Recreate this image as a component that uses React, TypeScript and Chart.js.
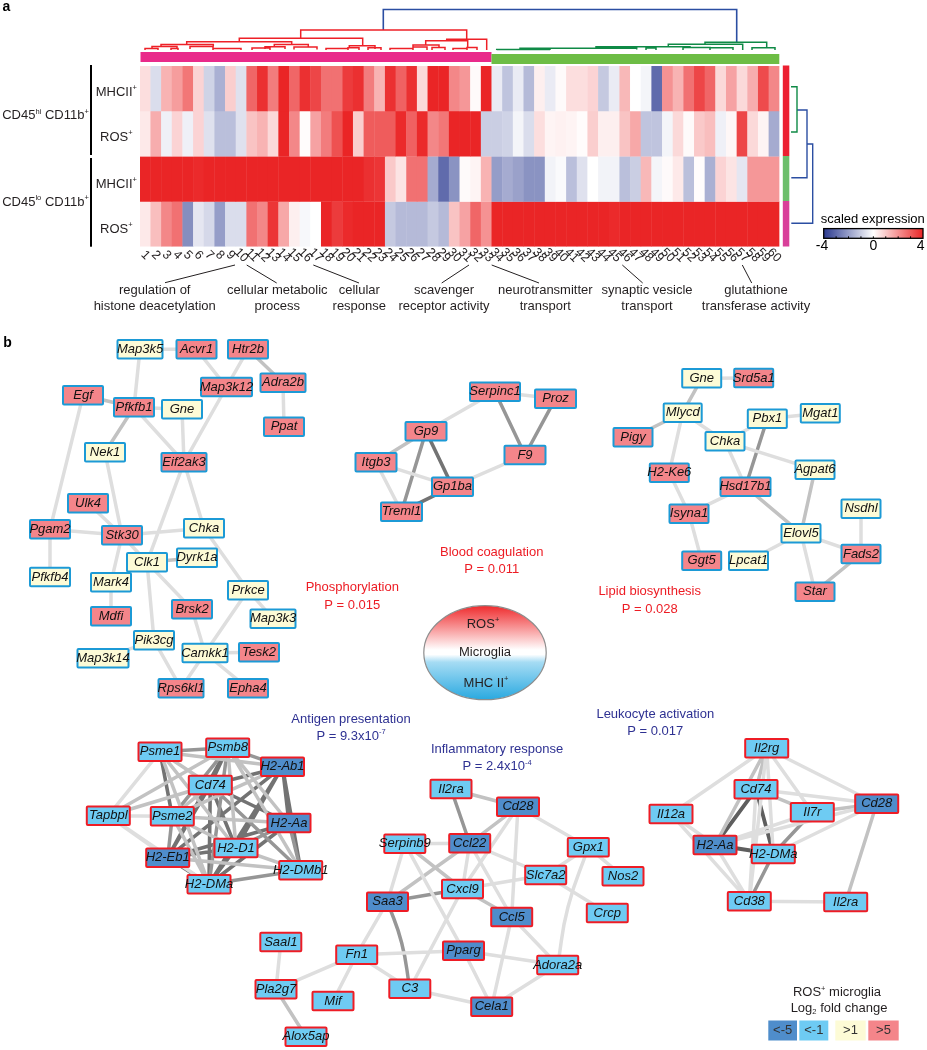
import React, { useEffect, useRef } from "react";
import { Chart, registerables } from "chart.js";

Chart.register(...registerables);

const FONT = '"Liberation Sans", Arial, sans-serif';
const INK = "#231f20";

// ---------- panel a: heat map ----------
const columnLabels = Array.from({ length: 60 }, (_, i) => String(i + 1));
const rowNames = ["CD45hi MHCII+", "CD45hi ROS+", "CD45lo MHCII+", "CD45lo ROS+"];
const hiMhc = [0.6, -0.7, 1.4, 1.8, 2.5, 0.8, -0.9, -1.6, 0.9, -0.6, 2.8, 3.8, 2.4, 4, 2.8, 3.8, 3.4, 2.6, 2.6, 3.6, 3.8, 2.4, 1.4, 3.8, 2.9, 3.8, 0.7, 4, 4, 2.2, 1.9, 0.1, 4, -0.4, -1.2, -0.4, -1.4, 0.3, -0.4, 0.1, 0.6, 0.6, 0.8, -1.1, -0.4, 1.3, 0, -0.2, -3, 2, 1.4, 2.6, 3.4, 2.8, 0.7, 1.7, 0.7, 1.5, 3.3, 2.2];
const hiRos = [0.4, 1.5, -0.3, 0.8, -0.3, 0.8, -0.6, -1.3, -1.3, -0.6, 1.1, 1.4, 0.7, 4, 2.2, 0.05, 1.7, 2.4, 3.2, 4, 0.9, 3, 3, 3, 3.9, 2.9, 3.9, 2.2, 2.5, 4, 4, 4, -1, -1, -0.9, -0.2, -0.7, 0.6, 0.2, 0.25, 0.2, 0.05, 0.9, 0.3, 0.3, 1.1, 1.6, -1.2, -1.2, -0.2, 0.7, 0.1, 1, 1.2, -0.3, 0.15, 3.4, 0.7, 0.2, -1.7];
const loMhc = [4, 4, 4, 4, 4, 3.9, 4, 4, 4, 4, 4, 4, 4, 4, 4, 4, 4, 4, 4, 4, 4, 3.8, 3.7, 1, 0.5, 2.6, 2.6, -1.7, -3, -2.2, 0.1, 0.2, 1.4, -2, -1.7, -1.9, -2.2, -2.2, -0.25, -0.1, -1.3, -0.6, 0, -0.25, -0.25, -1.3, -1, 1.3, -0.2, 0.1, 0.4, -1.3, 0.05, -1.6, 0.8, 0.5, -0.5, 1.9, 1.9, 1.9];
const loRos = [0.4, 1.2, 2.2, 2.6, -2.3, -0.5, -0.8, -2, -0.7, -0.7, 2.6, 2.2, 3.7, 1.6, 0.3, -0.15, 0, 4, 3.6, 3.9, 4, 4, 4, -1.1, -1.4, -1.4, -1.4, -1.1, -1.4, 1.1, 1.7, 2.8, 2, 4, 4, 4, 4, 4, 4, 4, 4, 4, 4, 4, 3.9, 4, 4, 4, 4, 4, 4, 4, 4, 4, 4, 4, 4, 4, 4, 4];
const heatRows = [hiMhc, hiRos, loMhc, loRos];

const topClusterBars: [number, number, number, number, string][] = [
  [140.5, 491.5, 52, 62, "#e92a8a"],
  [491.5, 779.3, 54, 64, "#6dbd45"],
];
const sideClusterBars: [number, number, number, number, string][] = [
  [782.8, 789.3, 65.5, 156, "#ec2031"],
  [782.8, 789.3, 156, 201, "#6cbf6c"],
  [782.8, 789.3, 201, 246.5, "#d9409a"],
];
const rowBrackets: [number, number, number, number, string][] = [
  [90, 92, 65, 155, "#000"],
  [90, 92, 158, 246.7, "#000"],
];

// dendrogram merges: left x, right x, top, left foot, right foot
const redMerges = [
  [300.7, 466.7, 30, 38.3, 40], [239.3, 362.7, 38.3, 41.7, 45.7], [186.7, 291.7, 41.7, 44.5, 44.5],
  [161, 213.3, 44.5, 46.5, 46.5], [152, 177, 46.5, 48.5, 49], [145, 158, 48.5, 50, 50], [171, 178, 48.5, 50, 50],
  [190, 213, 46.5, 49, 49], [213, 241, 48.5, 50, 50], [274.3, 308.3, 44.5, 47, 47], [252, 270, 48, 50, 50],
  [265, 285, 46.8, 49, 49], [294, 317, 47, 49.5, 49.5], [349.3, 375, 45.7, 48, 49], [326, 348, 48.5, 50, 50],
  [348, 359, 47.8, 50, 50], [368, 381, 47.8, 50, 50], [446.7, 486.7, 39.3, 40.7, 50], [425.7, 467.7, 40.7, 45, 47.3],
  [413, 439, 45, 47, 47.5], [390, 413, 48.5, 50, 50], [413, 427, 47, 50, 50], [432, 445, 47.5, 50, 50],
  [453, 467, 48.5, 50, 50], [467, 477, 47.5, 50, 50],
];
const greenMerges = [
  [705, 766.7, 42.3, 44.3, 47.7], [752, 775, 47.7, 50, 50], [668.3, 742.7, 44.3, 46.7, 50], [596, 690, 46.7, 47.7, 47.7],
  [520, 636.7, 48.2, 49.5, 49.5], [496.7, 550, 49.6, 50, 50], [646, 656, 48, 50, 50], [683, 710, 47.5, 50, 50],
  [710, 733, 47.7, 50, 50],
];
const blueMerges = [[383.3, 736.7, 9.5, 30, 42.3]];
const sideGreen = [[[791, 86.7], [797, 86.7], [797, 132], [791, 132]]];
const sideBlue = [
  [[797, 110], [807, 110], [807, 177.7], [791.3, 177.7]],
  [[807, 144], [812.7, 144], [812.7, 223.3], [791.3, 223.3]],
];
const leaderLines = [
  [235, 265, 165, 282.7], [246.7, 265, 276.7, 283], [313.3, 265, 359, 283], [469, 265, 441.7, 283],
  [491.7, 265, 539, 283], [622.3, 265, 642.7, 283], [742.3, 265, 751.7, 283],
];

// ---------- panel b: networks ----------
type Cluster = { genes: string[]; fold: number[]; layout: number[][]; edges: [string, string, number][]; border: string };

const phosGenes = ["Map3k5", "Acvr1", "Htr2b", "Map3k12", "Adra2b", "Egf", "Pfkfb1", "Gne", "Ppat", "Nek1", "Eif2ak3", "Ulk4", "Pgam2", "Stk30", "Chka", "Clk1", "Dyrk1a", "Pfkfb4", "Mark4", "Prkce", "Brsk2", "Map3k3", "Mdfi", "Pik3cg", "Camkk1", "Tesk2", "Map3k14", "Rps6kl1", "Epha4"];
const phosFold = [1, 5, 5, 5, 5, 5, 5, 1, 5, 1, 5, 5, 5, 5, 1, 1, 1, 1, 1, 1, 5, 1, 5, 1, 1, 5, 1, 5, 5];
const phosLayout = [[140, 349.3, 47], [196.5, 349.3, 42], [248, 349.3, 42], [226.5, 387, 53], [283, 382.7, 47], [83, 395.3, 42], [134, 407.3, 42], [182, 409.3, 42], [284, 426.7, 42], [105, 452.3, 42], [184, 462.3, 47], [88, 503.3, 42], [50, 529.3, 42], [122, 535.3, 42], [204, 528.3, 42], [147, 562.3, 42], [197, 557.7, 42], [50, 577, 42], [111, 582.3, 42], [248, 590.3, 42], [192, 609.3, 42], [273, 618.7, 47], [111, 616.3, 42], [154, 640.3, 42], [205, 653, 47], [259, 652.3, 42], [103, 658.3, 53], [181, 688.3, 47], [248, 688.3, 42]];
const phosEdges: [string, string, number][] = [["Map3k5", "Acvr1", 1], ["Map3k5", "Pfkfb1", 1], ["Acvr1", "Map3k12", 1], ["Htr2b", "Map3k12", 1], ["Htr2b", "Adra2b", 2], ["Adra2b", "Ppat", 1], ["Egf", "Pfkfb1", 2], ["Egf", "Pgam2", 1], ["Pfkfb1", "Gne", 1], ["Pfkfb1", "Nek1", 2], ["Pfkfb1", "Eif2ak3", 1], ["Gne", "Eif2ak3", 1], ["Map3k12", "Eif2ak3", 1], ["Nek1", "Stk30", 1], ["Eif2ak3", "Clk1", 1], ["Eif2ak3", "Chka", 1], ["Ulk4", "Stk30", 1], ["Pgam2", "Stk30", 1], ["Pgam2", "Pfkfb4", 1], ["Stk30", "Chka", 1], ["Stk30", "Clk1", 1], ["Stk30", "Mark4", 1], ["Clk1", "Dyrk1a", 2], ["Clk1", "Brsk2", 1], ["Clk1", "Pik3cg", 1], ["Mark4", "Mdfi", 1], ["Chka", "Prkce", 1], ["Prkce", "Map3k3", 1], ["Prkce", "Camkk1", 1], ["Brsk2", "Camkk1", 1], ["Camkk1", "Tesk2", 1], ["Camkk1", "Rps6kl1", 1], ["Camkk1", "Epha4", 1], ["Pik3cg", "Map3k14", 1], ["Pik3cg", "Rps6kl1", 1]];

const coagGenes = ["Serpinc1", "Proz", "Gp9", "F9", "Gp1ba", "Itgb3", "Treml1"];
const coagFold = [5, 5, 5, 5, 5, 5, 5];
const coagLayout = [[495, 391.7, 52], [555.5, 398.7, 43], [426, 431.3, 43], [525, 455, 43], [452.5, 486.7, 43], [376, 462.3, 43], [401.5, 511.7, 43]];
const coagEdges: [string, string, number][] = [["Serpinc1", "Proz", 1], ["Serpinc1", "Gp9", 1], ["Serpinc1", "F9", 3], ["Proz", "F9", 3], ["F9", "Gp1ba", 1], ["Gp9", "Gp1ba", 4], ["Gp9", "Treml1", 3], ["Gp9", "Itgb3", 2], ["Itgb3", "Gp1ba", 1], ["Itgb3", "Treml1", 1], ["Treml1", "Gp1ba", 4]];

const lipidGenes = ["Gne", "Srd5a1", "Mlycd", "Pbx1", "Mgat1", "Pigy", "Chka", "Agpat6", "H2-Ke6", "Hsd17b1", "Nsdhl", "Isyna1", "Elovl5", "Fads2", "Ggt5", "Lpcat1", "Star"];
const lipidFold = [1, 5, 1, 1, 1, 5, 1, 1, 5, 5, 1, 5, 1, 5, 5, 1, 5];
const lipidLayout = [[701.7, 378.3, 41], [753.7, 378, 41], [682.7, 412.7, 40], [767.3, 418.7, 41], [820.3, 413.3, 41], [633, 437.3, 41], [725, 441.3, 41], [815, 469.7, 41], [669.3, 472.7, 41], [745.5, 486.7, 52], [861, 508.7, 41], [689, 513.7, 41], [801, 533.3, 41], [861, 554, 41], [701.7, 560.7, 41], [748.5, 560.7, 41], [815, 591.7, 41]];
const lipidEdges: [string, string, number][] = [["Gne", "Srd5a1", 1], ["Gne", "Mlycd", 2], ["Mlycd", "Pigy", 2], ["Mlycd", "H2-Ke6", 1], ["Mlycd", "Chka", 1], ["Chka", "Pbx1", 1], ["Pbx1", "Mgat1", 1], ["Pbx1", "Hsd17b1", 3], ["Chka", "Hsd17b1", 1], ["Chka", "Agpat6", 1], ["H2-Ke6", "Isyna1", 1], ["Isyna1", "Hsd17b1", 1], ["Isyna1", "Ggt5", 1], ["Hsd17b1", "Elovl5", 2], ["Agpat6", "Elovl5", 2], ["Elovl5", "Lpcat1", 1], ["Elovl5", "Fads2", 1], ["Elovl5", "Star", 1], ["Fads2", "Star", 2], ["Nsdhl", "Fads2", 1]];

const antigenGenes = ["Psme1", "Psmb8", "H2-Ab1", "Cd74", "Tapbpl", "Psme2", "H2-Aa", "H2-D1", "H2-Eb1", "H2-DMb1", "H2-DMa"];
const antigenFold = [-1, -1, -5, -1, -1, -1, -5, -1, -5, -1, -1];
const antigenLayout = [[160, 751.7, 45], [227.7, 747.7, 45], [282.5, 766.7, 45], [210.3, 785, 45], [108.3, 815.7, 45], [172.3, 816.3, 45], [289, 823, 45], [236, 848, 45], [167.7, 857.7, 45], [300.7, 870.3, 45], [209, 884.3, 45]];
const antigenEdges: [string, string, number][] = [["Tapbpl", "Psme1", 1], ["Tapbpl", "Psmb8", 2], ["Tapbpl", "Cd74", 2], ["Tapbpl", "Psme2", 1], ["Tapbpl", "H2-Eb1", 1], ["Tapbpl", "H2-DMa", 1], ["Psme1", "Psmb8", 3], ["Psme1", "Cd74", 2], ["Psme1", "H2-DMa", 2], ["Psme1", "H2-D1", 2], ["Psme1", "H2-Ab1", 2], ["Psmb8", "H2-D1", 2], ["Psmb8", "H2-Aa", 2], ["Psmb8", "H2-DMb1", 2], ["Cd74", "Psme2", 2], ["H2-Ab1", "Psme2", 2], ["H2-Aa", "Psme2", 2], ["H2-D1", "H2-DMb1", 2], ["H2-D1", "Psme2", 2], ["H2-Eb1", "H2-DMb1", 2], ["H2-DMa", "Psme2", 2], ["Psme1", "Psme2", 4], ["Psmb8", "H2-Ab1", 3], ["Psmb8", "Cd74", 4], ["Psmb8", "H2-Eb1", 4], ["Psmb8", "H2-DMa", 3], ["Psmb8", "Psme2", 3], ["Cd74", "H2-D1", 4], ["Cd74", "H2-DMb1", 3], ["H2-Ab1", "H2-D1", 4], ["H2-Aa", "H2-DMb1", 3], ["H2-Aa", "H2-Eb1", 4], ["H2-Aa", "H2-D1", 3], ["H2-D1", "H2-Eb1", 4], ["H2-Eb1", "Psme2", 3], ["H2-DMa", "H2-DMb1", 3], ["Cd74", "H2-Ab1", 4], ["Cd74", "H2-Aa", 4], ["Cd74", "H2-Eb1", 4], ["Cd74", "H2-DMa", 4], ["H2-Ab1", "H2-Aa", 4], ["H2-Ab1", "H2-DMb1", 4], ["H2-Ab1", "H2-Eb1", 4], ["H2-Ab1", "H2-DMa", 4], ["H2-Aa", "H2-DMa", 4], ["H2-D1", "H2-DMa", 4], ["H2-Eb1", "H2-DMa", 4]];

const inflamGenes = ["Il2ra", "Cd28", "Ccl22", "Serpinb9", "Gpx1", "Slc7a2", "Nos2", "Cxcl9", "Saa3", "Ccl5", "Crcp", "Pparg", "Fn1", "Adora2a", "C3", "Pla2g7", "Saal1", "Mif", "Alox5ap", "Cela1"];
const inflamFold = [-1, -5, -5, -1, -1, -1, -1, -1, -5, -5, -1, -5, -1, -1, -1, -1, -1, -1, -1, -5];
const inflamLayout = [[451, 789, 43], [518, 806.7, 44], [469.7, 843.3, 43], [404.8, 843.7, 43], [588.3, 847.3, 43], [545.7, 875, 43], [623, 876.3, 43], [462.5, 889, 43], [387.5, 901.7, 43], [511.7, 917, 43], [607.3, 913, 43], [463.5, 950.7, 43], [356.7, 954.7, 43], [557.7, 965, 43], [409.8, 988.7, 43], [276, 989.3, 43], [280.8, 942, 43], [333, 1001, 43], [306, 1036.7, 43], [491.7, 1006.7, 43]];
const inflamEdges: [string, string, number][] = [["Il2ra", "Cd28", 2], ["Il2ra", "Ccl22", 3], ["Serpinb9", "Ccl22", 1], ["Serpinb9", "Cxcl9", 2], ["Serpinb9", "Saa3", 1], ["Serpinb9", "Pparg", 1], ["Cd28", "Ccl22", 2], ["Cd28", "Cxcl9", 1], ["Cd28", "Ccl5", 1], ["Cd28", "Gpx1", 1], ["Ccl22", "Saa3", 2], ["Ccl22", "Cxcl9", 1], ["Ccl22", "Slc7a2", 1], ["Ccl22", "Ccl5", 1], ["Cxcl9", "Saa3", 3], ["Cxcl9", "Slc7a2", 1], ["Cxcl9", "Ccl5", 2], ["Cxcl9", "C3", 1], ["Gpx1", "Slc7a2", 1], ["Gpx1", "Nos2", 1], ["Slc7a2", "Crcp", 1], ["Saa3", "Fn1", 1], ["Fn1", "Pparg", 1], ["Fn1", "C3", 1], ["Fn1", "Pla2g7", 1], ["Fn1", "Mif", 1], ["Saal1", "Pla2g7", 1], ["Pla2g7", "Alox5ap", 2], ["Pparg", "Adora2a", 1], ["Pparg", "Cela1", 1], ["C3", "Cela1", 1], ["Ccl5", "Cela1", 1], ["Ccl5", "Adora2a", 1], ["Adora2a", "Cela1", 1]];
const inflamCurves: [number, number, number, number, number, number, number][] = [
  [387.5, 901.7, 401.7, 943, 409.8, 988.7, 3],
  [588.3, 847.3, 568, 907, 557.7, 965, 1],
];

const leukoGenes = ["Il2rg", "Cd74", "Cd28", "Il7r", "Il12a", "H2-Aa", "H2-DMa", "Cd38", "Il2ra"];
const leukoFold = [-1, -1, -5, -1, -1, -5, -1, -1, -1];
const leukoLayout = [[766.7, 748.3, 45], [756, 789.3, 45], [876.7, 803.7, 45], [812.3, 812.3, 45], [671, 814, 45], [715, 845, 45], [773.3, 854, 45], [749.3, 901.3, 45], [845.7, 902, 45]];
const leukoEdges: [string, string, number][] = [["Il2rg", "Il12a", 1], ["Il2rg", "Cd74", 2], ["Il2rg", "Il7r", 1], ["Il2rg", "Cd28", 1], ["Il2rg", "H2-Aa", 2], ["Il2rg", "H2-DMa", 1], ["Il2rg", "Cd38", 1], ["Cd74", "Cd28", 1], ["Cd74", "Il7r", 2], ["Cd74", "Cd38", 1], ["Il7r", "Cd28", 2], ["Il7r", "H2-Aa", 1], ["Il7r", "H2-DMa", 3], ["Il12a", "H2-Aa", 1], ["Il12a", "Cd38", 1], ["H2-Aa", "Cd38", 1], ["H2-DMa", "Cd38", 3], ["Cd28", "H2-DMa", 1], ["Cd28", "H2-Aa", 1], ["Cd28", "Il2ra", 2], ["Cd38", "Il2ra", 1], ["Cd74", "H2-Aa", 5], ["Cd74", "H2-DMa", 5], ["H2-Aa", "H2-DMa", 5]];

const UP_BORDER = "#1c9ad6";
const DOWN_BORDER = "#ee1c25";
const clusters: Cluster[] = [
  { genes: phosGenes, fold: phosFold, layout: phosLayout, edges: phosEdges, border: UP_BORDER },
  { genes: coagGenes, fold: coagFold, layout: coagLayout, edges: coagEdges, border: UP_BORDER },
  { genes: lipidGenes, fold: lipidFold, layout: lipidLayout, edges: lipidEdges, border: UP_BORDER },
  { genes: antigenGenes, fold: antigenFold, layout: antigenLayout, edges: antigenEdges, border: DOWN_BORDER },
  { genes: inflamGenes, fold: inflamFold, layout: inflamLayout, edges: inflamEdges, border: DOWN_BORDER },
  { genes: leukoGenes, fold: leukoFold, layout: leukoLayout, edges: leukoEdges, border: DOWN_BORDER },
];

const foldColours: Record<string, string> = { "-5": "#4f8dcb", "-1": "#6ecbf3", "1": "#fdfbd6", "5": "#f4858a" };
const edgeStyles: Record<number, [string, number]> = {
  1: ["#dedede", 3.5],
  2: ["#c2c2c2", 3.5],
  3: ["#969696", 3.5],
  4: ["#737373", 3.6],
  5: ["#5e5e5e", 3.8],
};

const legendKeys: [string, number, number, number, number][] = [
  ["<-5", -5, 768.3, 797, 1030.5],
  ["<-1", -1, 799.3, 828.3, 1030.5],
  [">1", 1, 835.3, 865.7, 1030.5],
  [">5", 5, 868.3, 898.7, 1030.5],
];

// text, x, y, size, colour, align; ^..^ raises and ~..~ lowers a run
const RED = "#ed1c24";
const NAVY = "#2e3192";
const pageTexts: [string, number, number, number, string, CanvasTextAlign, boolean?][] = [
  ["a", 6.5, 7, 14, "#000", "center", true],
  ["b", 7.5, 342.7, 14, "#000", "center", true],
  ["MHCII^+^", 116.3, 92, 13, INK, "center"],
  ["ROS^+^", 116.3, 137.3, 13, INK, "center"],
  ["MHCII^+^", 116.3, 184, 13, INK, "center"],
  ["ROS^+^", 116.3, 229.3, 13, INK, "center"],
  ["CD45^hi^ CD11b^+^", 45.5, 115.7, 13, INK, "center"],
  ["CD45^lo^ CD11b^+^", 45.5, 202, 13, INK, "center"],
  ["regulation of", 154.7, 290.7, 13, INK, "center"],
  ["histone deacetylation", 154.7, 306, 13, INK, "center"],
  ["cellular metabolic", 277.3, 290.7, 13, INK, "center"],
  ["process", 277.3, 306, 13, INK, "center"],
  ["cellular", 359.3, 290.7, 13, INK, "center"],
  ["response", 359.3, 306, 13, INK, "center"],
  ["scavenger", 444, 290.7, 13, INK, "center"],
  ["receptor activity", 444, 306, 13, INK, "center"],
  ["neurotransmitter", 545.3, 290.7, 13, INK, "center"],
  ["transport", 545.3, 306, 13, INK, "center"],
  ["synaptic vesicle", 647, 290.7, 13, INK, "center"],
  ["transport", 647, 306, 13, INK, "center"],
  ["glutathione", 756, 290.7, 13, INK, "center"],
  ["transferase activity", 756, 306, 13, INK, "center"],
  ["scaled expression", 872.7, 219, 13, "#000", "center"],
  ["-4", 822, 246, 14, "#000", "center"],
  ["0", 873.3, 246, 14, "#000", "center"],
  ["4", 920.7, 246, 14, "#000", "center"],
  ["Phosphorylation", 352.3, 587.3, 13, RED, "center"],
  ["P = 0.015", 352.3, 605, 13, RED, "center"],
  ["Blood coagulation", 491.7, 552, 13, RED, "center"],
  ["P = 0.011", 491.7, 569.3, 13, RED, "center"],
  ["Lipid biosynthesis", 649.7, 591.7, 13, RED, "center"],
  ["P = 0.028", 649.7, 609, 13, RED, "center"],
  ["Antigen presentation", 351, 719, 13, NAVY, "center"],
  ["P = 9.3x10^-7^", 351, 736, 13, NAVY, "center"],
  ["Inflammatory response", 497, 749, 13, NAVY, "center"],
  ["P = 2.4x10^-4^", 497, 766.5, 13, NAVY, "center"],
  ["Leukocyte activation", 655.3, 714, 13, NAVY, "center"],
  ["P = 0.017", 655.3, 731, 13, NAVY, "center"],
  ["ROS^+^", 483, 624, 13, INK, "center"],
  ["Microglia", 485, 652.7, 13, INK, "center"],
  ["MHC II^+^", 486, 683, 13, INK, "center"],
  ["ROS^+^ microglia", 837, 992.7, 13, INK, "center"],
  ["Log~2~ fold change", 839, 1008.5, 13, INK, "center"],
];

// ---------- helpers ----------
const RED_END = [234, 37, 38];
const BLUE_END = [43, 58, 144];
function heatColour(v: number) {
  const t = Math.min(1, Math.abs(v) / 4);
  const end = v >= 0 ? RED_END : BLUE_END;
  const c = end.map((e) => Math.round(255 + (e - 255) * t));
  return `rgb(${c[0]},${c[1]},${c[2]})`;
}

function parseRuns(text: string) {
  const runs: { t: string; mode: number }[] = [];
  let mode = 0;
  let buf = "";
  for (const ch of text) {
    if (ch === "^" || ch === "~") {
      if (buf) runs.push({ t: buf, mode });
      buf = "";
      mode = mode ? 0 : ch === "^" ? 1 : -1;
    } else buf += ch;
  }
  if (buf) runs.push({ t: buf, mode });
  return runs;
}

function drawRich(ctx: CanvasRenderingContext2D, text: string, x: number, y: number, size: number, colour: string, align: CanvasTextAlign, bold?: boolean, italic?: boolean) {
  const style = `${italic ? "italic " : ""}${bold ? "bold " : ""}`;
  const runs = parseRuns(text);
  const small = size * 0.58;
  let total = 0;
  for (const r of runs) {
    ctx.font = `${style}${r.mode ? small : size}px ${FONT}`;
    total += ctx.measureText(r.t).width;
  }
  let cx = align === "center" ? x - total / 2 : align === "right" ? x - total : x;
  ctx.fillStyle = colour;
  ctx.textAlign = "left";
  ctx.textBaseline = "middle";
  for (const r of runs) {
    ctx.font = `${style}${r.mode ? small : size}px ${FONT}`;
    ctx.fillText(r.t, cx, y - r.mode * size * 0.3);
    cx += ctx.measureText(r.t).width;
  }
}

function pathData(paths: number[][][]) {
  const pts: { x: number; y: number }[] = [];
  for (const p of paths) {
    for (const [x, y] of p) pts.push({ x, y });
    pts.push({ x: NaN, y: NaN });
  }
  return pts;
}
const merges2paths = (m: number[][]) => m.map(([a, b, top, fa, fb]) => [[a, fa], [a, top], [b, top], [b, fb]]);
const lineDataset = (paths: number[][][], colour: string, width: number, extra: object = {}) => ({
  type: "line" as const,
  data: pathData(paths),
  borderColor: colour,
  borderWidth: width,
  pointRadius: 0,
  spanGaps: false,
  tension: 0,
  ...extra,
});

function buildPageDatasets() {
  const sets: any[] = [];
  for (const level of [1, 2, 3, 4, 5]) {
    const paths: number[][][] = [];
    for (const c of clusters) {
      for (const [a, b, l] of c.edges) {
        if (l !== level) continue;
        const pa = c.layout[c.genes.indexOf(a)];
        const pb = c.layout[c.genes.indexOf(b)];
        paths.push([[pa[0], pa[1]], [pb[0], pb[1]]]);
      }
    }
    sets.push(lineDataset(paths, edgeStyles[level][0], edgeStyles[level][1]));
  }
  for (const [x1, y1, x2, y2, x3, y3, l] of inflamCurves) {
    sets.push(lineDataset([[[x1, y1], [x2, y2], [x3, y3]]], edgeStyles[l][0], edgeStyles[l][1], { tension: 0.5 }));
  }
  sets.push(lineDataset(merges2paths(redMerges), "#ee2027", 1.5));
  sets.push(lineDataset(merges2paths(greenMerges), "#0f8a46", 1.5));
  sets.push(lineDataset(merges2paths(blueMerges), "#2b4ea2", 1.6));
  sets.push(lineDataset(sideGreen, "#0f8a46", 1.4));
  sets.push(lineDataset(sideBlue, "#2b4ea2", 1.4));
  sets.push(lineDataset(leaderLines.map(([a, b, c, d]) => [[a, b], [c, d]]), "#231f20", 1));
  clusters.forEach((c) => {
    sets.push({
      type: "scatter" as const,
      label: "nodes",
      data: c.genes.map((g, i) => ({ x: c.layout[i][0], y: c.layout[i][1], gene: g, fold: c.fold[i], w: c.layout[i][2], border: c.border })),
      pointRadius: 0,
      showLine: false,
    });
  });
  return sets;
}

const pagePlugin = {
  id: "pageMarks",
  beforeDatasetsDraw(chart: any) {
    const ctx: CanvasRenderingContext2D = chart.ctx;
    const sx = chart.scales.x;
    const sy = chart.scales.y;
    const box = ([x1, x2, y1, y2, col]: [number, number, number, number, string]) => {
      ctx.fillStyle = col;
      ctx.fillRect(sx.getPixelForValue(x1), sy.getPixelForValue(y1), sx.getPixelForValue(x2) - sx.getPixelForValue(x1), sy.getPixelForValue(y2) - sy.getPixelForValue(y1));
    };
    [...topClusterBars, ...sideClusterBars, ...rowBrackets].forEach(box);
  },
  afterDatasetsDraw(chart: any) {
    const ctx: CanvasRenderingContext2D = chart.ctx;
    const sx = chart.scales.x;
    const sy = chart.scales.y;
    ctx.save();
    // network nodes, placed from the dataset points
    chart.data.datasets.forEach((ds: any, di: number) => {
      if (ds.label !== "nodes") return;
      const meta = chart.getDatasetMeta(di);
      ds.data.forEach((d: any, i: number) => {
        const el = meta.data[i];
        const w = d.w;
        const h = 20.5;
        ctx.fillStyle = foldColours[String(d.fold)];
        ctx.strokeStyle = d.border;
        ctx.lineWidth = 2;
        ctx.beginPath();
        ctx.roundRect(el.x - w / 2 + 1, el.y - h / 2 + 1, w - 2, h - 2, 1);
        ctx.fill();
        ctx.stroke();
      });
    });
    chart.data.datasets.forEach((ds: any, di: number) => {
      if (ds.label !== "nodes") return;
      const meta = chart.getDatasetMeta(di);
      ds.data.forEach((d: any, i: number) => {
        const el = meta.data[i];
        drawRich(ctx, d.gene, el.x, el.y, 13, "#111", "center", false, true);
      });
    });
    // microglia ellipse
    const ex = sx.getPixelForValue(485);
    const ey = sy.getPixelForValue(652.7);
    const g = ctx.createLinearGradient(0, ey - 47, 0, ey + 47);
    g.addColorStop(0, "#ef2b2d");
    g.addColorStop(0.28, "#f9a9aa");
    g.addColorStop(0.47, "#ffffff");
    g.addColorStop(0.52, "#ffffff");
    g.addColorStop(0.6, "#a6dcf4");
    g.addColorStop(1, "#2aa9e0");
    ctx.beginPath();
    ctx.ellipse(ex, ey, 61.2, 47, 0, 0, Math.PI * 2);
    ctx.fillStyle = g;
    ctx.fill();
    ctx.strokeStyle = "#8d8d8d";
    ctx.lineWidth = 1.2;
    ctx.stroke();
    // fold-change legend
    for (const [label, fold, x1, x2, yc] of legendKeys) {
      const px1 = sx.getPixelForValue(x1);
      const px2 = sx.getPixelForValue(x2);
      const py = sy.getPixelForValue(yc);
      ctx.fillStyle = foldColours[String(fold)];
      ctx.fillRect(px1, py - 10, px2 - px1, 20);
      drawRich(ctx, label, (px1 + px2) / 2, py, 13, "#333", "center");
    }
    // colour bar
    const bx1 = sx.getPixelForValue(823.7);
    const bx2 = sx.getPixelForValue(923);
    const by1 = sy.getPixelForValue(228.6);
    const by2 = sy.getPixelForValue(238.3);
    const cg = ctx.createLinearGradient(bx1, 0, bx2, 0);
    for (let v = -4; v <= 4; v++) cg.addColorStop((v + 4) / 8, heatColour(v));
    ctx.fillStyle = cg;
    ctx.fillRect(bx1, by1, bx2 - bx1, by2 - by1);
    ctx.strokeStyle = "#000";
    ctx.lineWidth = 1.3;
    ctx.strokeRect(bx1, by1, bx2 - bx1, by2 - by1);
    ctx.lineWidth = 1;
    for (let v = -3; v <= 3; v++) {
      const tx = bx1 + ((v + 4) / 8) * (bx2 - bx1);
      ctx.beginPath();
      ctx.moveTo(tx, by2);
      ctx.lineTo(tx, by2 - 2);
      ctx.stroke();
    }
    // page text
    for (const [t, x, y, size, col, align, bold] of pageTexts) {
      drawRich(ctx, t, sx.getPixelForValue(x), sy.getPixelForValue(y), size, col, align, bold);
    }
    ctx.restore();
  },
};

const columnLabelPlugin = {
  id: "columnLabels",
  afterDraw(chart: any) {
    const ctx: CanvasRenderingContext2D = chart.ctx;
    const sx = chart.scales.x;
    ctx.save();
    ctx.font = `12.5px ${FONT}`;
    ctx.fillStyle = INK;
    ctx.textAlign = "center";
    ctx.textBaseline = "middle";
    columnLabels.forEach((label, i) => {
      ctx.save();
      ctx.translate(sx.getPixelForValue(i), chart.chartArea.bottom + 8.5);
      ctx.rotate(Math.PI / 4);
      ctx.fillText(label, 0, 0);
      ctx.restore();
    });
    ctx.restore();
  },
};

export default function App() {
  const pageRef = useRef<HTMLCanvasElement>(null);
  const heatRef = useRef<HTMLCanvasElement>(null);

  useEffect(() => {
    const page = new Chart(pageRef.current!, {
      data: { datasets: buildPageDatasets() },
      options: {
        animation: false,
        responsive: false,
        layout: { padding: 0 },
        plugins: { legend: { display: false }, tooltip: { enabled: false } },
        scales: {
          x: { type: "linear", min: 0, max: 927, display: false },
          y: { type: "linear", min: 0, max: 1050, reverse: true, display: false },
        },
      },
      plugins: [pagePlugin],
    } as any);

    const heat = new Chart(heatRef.current!, {
      type: "bar",
      data: {
        labels: columnLabels,
        datasets: heatRows.map((vals, r) => ({
          label: rowNames[r],
          grouped: false,
          data: vals.map((v, c) => ({ x: columnLabels[c], y: [r - 0.003, r + 1.003], value: v })),
          backgroundColor: vals.map((v) => heatColour(v)),
          borderWidth: 0,
          barPercentage: 1.04,
          categoryPercentage: 1,
        })),
      },
      options: {
        animation: false,
        responsive: false,
        layout: { padding: { left: 140, right: 927 - 779.5, top: 66, bottom: 270 - 246.7 } },
        plugins: { legend: { display: false }, tooltip: { enabled: false } },
        scales: {
          x: { type: "category", display: false, offset: true },
          y: { type: "linear", min: 0, max: 4, reverse: true, display: false },
        },
      },
      plugins: [columnLabelPlugin],
    } as any);

    return () => {
      page.destroy();
      heat.destroy();
    };
  }, []);

  const soften = "blur(0.35px)";
  return (
    <div style={{ position: "absolute", left: 0, top: 0, width: 927, height: 1050, background: "#fff" }}>
      <canvas ref={pageRef} width={927} height={1050} style={{ position: "absolute", left: 0, top: 0, filter: soften }} />
      <canvas ref={heatRef} width={927} height={270} style={{ position: "absolute", left: 0, top: 0, filter: soften }} />
    </div>
  );
}
